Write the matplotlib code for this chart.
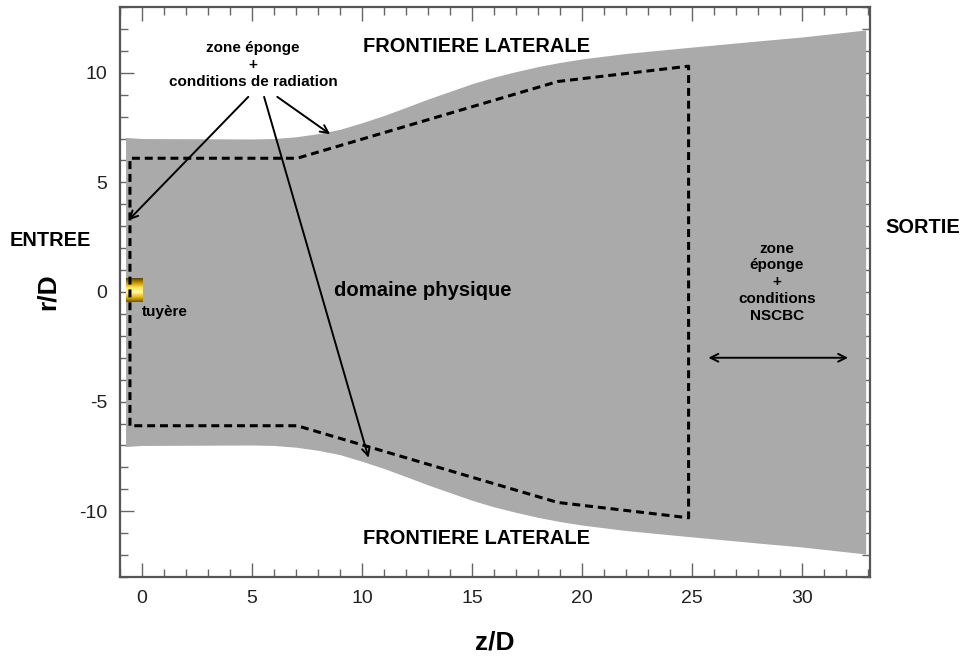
import numpy as np
import matplotlib
matplotlib.use("Agg")
from matplotlib import pyplot as plt
from matplotlib.colors import LinearSegmentedColormap

plt.rcParams['font.family'] = ['Liberation Sans', 'DejaVu Sans']
plt.rcParams['axes.unicode_minus'] = False

# contour du domaine de calcul (zone grise), symetrique en r
z_domaine = [-0.75, 0, 5, 6, 7, 8, 9, 10, 11, 12, 13, 14, 15, 16, 17, 18, 19, 20,
             22, 25, 28, 30, 32.9]
r_domaine = [7.05, 7.0, 6.98, 7.0, 7.08, 7.22, 7.42, 7.72, 8.05, 8.42, 8.8, 9.15,
             9.5, 9.8, 10.05, 10.28, 10.47, 10.63, 10.88, 11.17, 11.45, 11.63, 11.95]

# domaine physique (pointilles)
z_phys = [-0.55, -0.55, 7.05, 18.9, 24.85, 24.85, 18.9, 7.05, -0.55]
r_phys = [-6.1, 6.1, 6.1, 9.6, 10.3, -10.3, -9.6, -6.1, -6.1]

# tuyere
z_tuyere = [-0.75, 0.0]
r_tuyere = [-0.45, 0.6]

# fleches : (depart, arrivee)
fleches_rad = [((4.83, 8.9), (-0.62, 3.27)),
               ((5.55, 8.9), (10.3, -7.56)),
               ((6.15, 8.9), (8.55, 7.2))]
fleche_sortie = ((25.75, -3.0), (32.1, -3.0))

xticks = [0, 5, 10, 15, 20, 25, 30]
yticks = [-10, -5, 0, 5, 10]

fig = plt.figure(figsize=(9.65, 6.58), dpi=100)
ax = fig.add_axes([0.1244, 0.1231, 0.7772, 0.8663])
ax.set_axisbelow(True)

r_dom = np.array(r_domaine)
ax.fill_between(z_domaine, -r_dom, r_dom, color='#aaaaaa', lw=0, zorder=1)

ax.plot(z_phys, r_phys, color='black', lw=2.2, dashes=(2.6, 1.6), zorder=3)

# tuyere avec degrade dore
gold = LinearSegmentedColormap.from_list(
    'gold', ['#5e4300', '#c99800', '#ffe95c', '#fff6a0', '#e8b800', '#7a5600'])
grad = np.linspace(0, 1, 50).reshape(-1, 1)
ax.imshow(grad, cmap=gold, aspect='auto', origin='upper',
          extent=[z_tuyere[0], z_tuyere[1], r_tuyere[0], r_tuyere[1]], zorder=2)

for (z0, r0), (z1, r1) in fleches_rad:
    ax.annotate('', xy=(z1, r1), xytext=(z0, r0),
                arrowprops=dict(arrowstyle='->', color='black', lw=1.4,
                                mutation_scale=14, shrinkA=0, shrinkB=0), zorder=4)
(z0, r0), (z1, r1) = fleche_sortie
ax.annotate('', xy=(z1, r1), xytext=(z0, r0),
            arrowprops=dict(arrowstyle='<->', color='black', lw=1.4,
                            mutation_scale=14, shrinkA=0, shrinkB=0), zorder=4)

ax.text(5.05, 10.36, 'zone éponge\n+\nconditions de radiation', ha='center', va='center',
        fontsize=11, fontweight='bold', linespacing=1.25, zorder=5)
ax.text(15.2, 11.2, 'FRONTIERE LATERALE', ha='center', va='center',
        fontsize=14.4, fontweight='bold', zorder=5)
ax.text(15.2, -11.23, 'FRONTIERE LATERALE', ha='center', va='center',
        fontsize=14.4, fontweight='bold', zorder=5)
ax.text(12.78, 0.05, 'domaine physique', ha='center', va='center',
        fontsize=14.6, fontweight='bold', zorder=5)
ax.text(0.0, -0.9, 'tuyère', ha='left', va='center',
        fontsize=11, fontweight='bold', zorder=5)
ax.text(28.86, 0.45, 'zone\néponge\n+\nconditions\nNSCBC', ha='center', va='center',
        fontsize=11, fontweight='bold', linespacing=1.25, zorder=5)

fig.text(0.0522, 0.635, 'ENTREE', ha='center', va='center', fontsize=14.4, fontweight='bold')
fig.text(0.9565, 0.6535, 'SORTIE', ha='center', va='center', fontsize=14.4, fontweight='bold')

ax.set_xlim(-1.0, 33.1)
ax.set_ylim(-13.0, 13.0)
ax.set_xticks(xticks)
ax.set_yticks(yticks)
ax.set_xticks(np.arange(-1, 34, 1), minor=True)
ax.set_yticks(np.arange(-13, 14, 1), minor=True)
ax.tick_params(which='both', direction='in', top=True, right=True, color='#666666',
               labelsize=14, labelcolor='#222222')
ax.tick_params(which='major', length=10, width=1.0, pad=9)
ax.tick_params(which='minor', length=6, width=1.0)
for s in ax.spines.values():
    s.set_color('#555555')
    s.set_linewidth(1.6)

ax.set_xlabel('z/D', fontsize=19, fontweight='bold', labelpad=17)
ax.set_ylabel('r/D', fontsize=19, fontweight='bold', labelpad=14)

fig.savefig('out.png', dpi=100)
